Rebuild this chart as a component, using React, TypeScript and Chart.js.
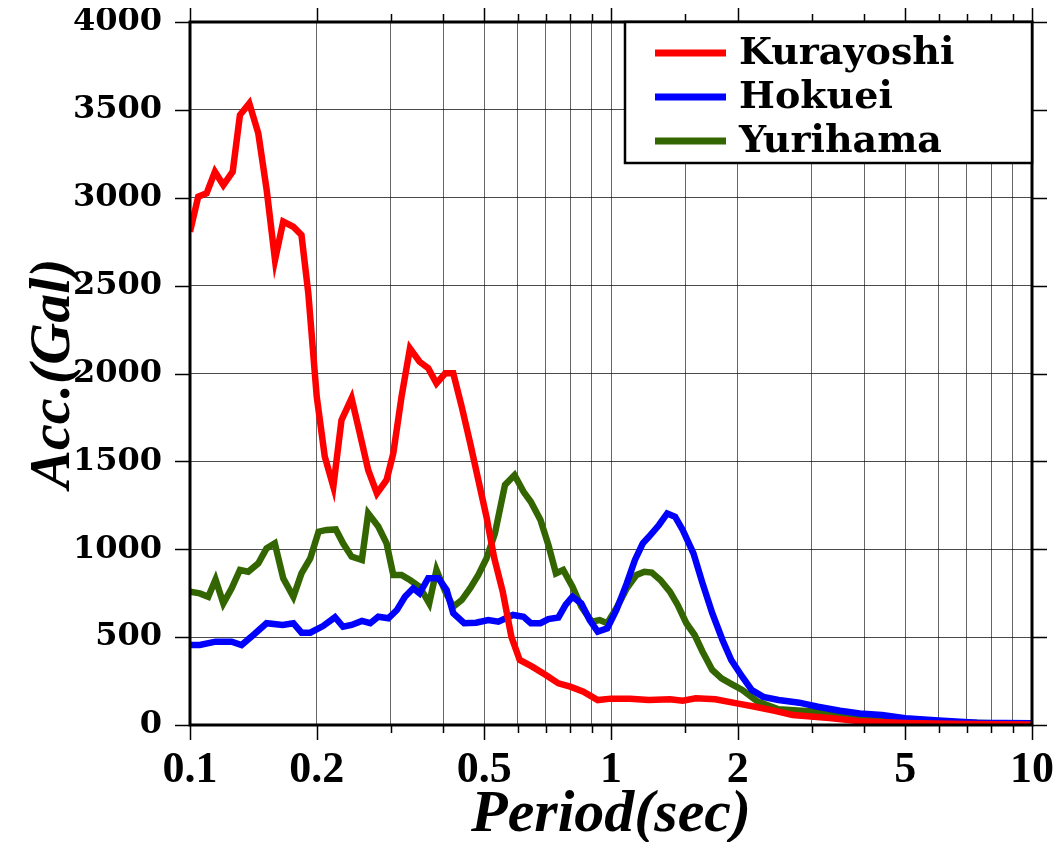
import React, { useEffect, useRef } from "react";
import { Chart, registerables } from "chart.js";

Chart.register(...registerables);

const kurayoshiPeriod = [0.1, 0.1046, 0.1095, 0.1146, 0.12, 0.1263, 0.1314, 0.1383, 0.1453, 0.1521, 0.1592, 0.1665, 0.1759, 0.184, 0.191, 0.2, 0.209, 0.219, 0.229, 0.242, 0.253, 0.265, 0.278, 0.293, 0.304, 0.318, 0.333, 0.351, 0.368, 0.385, 0.404, 0.422, 0.442, 0.463, 0.484, 0.506, 0.528, 0.553, 0.58, 0.607, 0.65, 0.7, 0.75, 0.8, 0.86, 0.93, 1.0, 1.11, 1.23, 1.38, 1.48, 1.59, 1.77, 1.99, 2.2, 2.45, 2.7, 3.3, 3.9, 5.0, 7.0, 10.0];
const kurayoshiAcc = [2807, 3006, 3025, 3148, 3072, 3148, 3471, 3537, 3366, 3044, 2646, 2864, 2835, 2788, 2456, 1868, 1527, 1356, 1735, 1859, 1661, 1451, 1318, 1394, 1546, 1868, 2143, 2067, 2030, 1944, 2001, 2001, 1811, 1603, 1394, 1185, 950, 760, 502, 370, 332, 284, 237, 218, 190, 142, 150, 150, 142, 146, 138, 152, 146, 123, 104, 80, 57, 40, 22, 12, 6, 3];

const hokueiPeriod = [0.1, 0.1055, 0.115, 0.1256, 0.1326, 0.1414, 0.152, 0.166, 0.176, 0.184, 0.193, 0.207, 0.221, 0.231, 0.242, 0.256, 0.268, 0.28, 0.296, 0.31, 0.324, 0.339, 0.351, 0.368, 0.389, 0.407, 0.422, 0.448, 0.478, 0.511, 0.54, 0.585, 0.62, 0.645, 0.68, 0.71, 0.75, 0.78, 0.81, 0.85, 0.89, 0.93, 0.98, 1.03, 1.09, 1.14, 1.19, 1.23, 1.3, 1.36, 1.42, 1.48, 1.57, 1.65, 1.74, 1.84, 1.93, 2.05, 2.16, 2.3, 2.5, 2.8, 3.1, 3.5, 3.9, 4.4, 5.0, 6.0, 7.4, 10.0];
const hokueiAcc = [455, 455, 474, 474, 455, 512, 579, 569, 579, 525, 525, 563, 613, 559, 569, 592, 579, 616, 607, 654, 730, 778, 749, 835, 835, 768, 636, 579, 582, 597, 588, 626, 616, 579, 579, 603, 612, 683, 730, 692, 597, 531, 550, 654, 806, 939, 1034, 1071, 1138, 1204, 1185, 1110, 977, 806, 636, 484, 370, 275, 199, 160, 142, 127, 104, 81, 66, 57, 38, 25, 13, 10];

const yurihamaPeriod = [0.1, 0.1055, 0.1105, 0.115, 0.12, 0.1256, 0.1314, 0.1375, 0.1453, 0.152, 0.159, 0.1665, 0.176, 0.184, 0.193, 0.202, 0.211, 0.222, 0.231, 0.242, 0.256, 0.265, 0.28, 0.293, 0.304, 0.318, 0.333, 0.351, 0.37, 0.385, 0.404, 0.422, 0.442, 0.463, 0.484, 0.506, 0.53, 0.56, 0.59, 0.62, 0.645, 0.68, 0.71, 0.74, 0.77, 0.81, 0.85, 0.9, 0.94, 0.98, 1.03, 1.09, 1.15, 1.2, 1.25, 1.31, 1.38, 1.44, 1.51, 1.58, 1.65, 1.74, 1.83, 1.92, 2.05, 2.23, 2.5, 2.9, 3.2, 3.6, 4.7, 6.0, 8.1, 10.0];
const yurihamaAcc = [759, 749, 730, 828, 692, 778, 882, 872, 920, 1005, 1034, 835, 730, 863, 948, 1100, 1110, 1113, 1034, 958, 939, 1204, 1129, 1034, 854, 854, 825, 787, 692, 882, 759, 673, 711, 778, 854, 948, 1090, 1366, 1422, 1327, 1270, 1166, 1024, 863, 882, 787, 673, 588, 597, 579, 664, 778, 854, 872, 867, 825, 759, 683, 579, 512, 417, 313, 265, 237, 199, 133, 90, 80, 72, 47, 32, 19, 10, 4];

const seriesNames = ["Kurayoshi", "Hokuei", "Yurihama"];
const seriesColors = ["#ff0000", "#0000ff", "#336600"];
const xTickLabels = [0.1, 0.2, 0.5, 1, 2, 5, 10];
const yTickStep = 500;

const FONT = "'DejaVu Serif', serif";
const FONT2 = "'Liberation Serif', serif";

function isLabeled(v: number) {
  return xTickLabels.some((t) => Math.abs(t - v) < 1e-6 * Math.max(1, t));
}

const zeroPad = (s: any) => {
  s.paddingTop = 0;
  s.paddingBottom = 0;
  s.paddingLeft = 0;
  s.paddingRight = 0;
};

const framePlugin = {
  id: "frameTicks",
  afterDatasetsDraw(chart: any) {
    const { ctx, chartArea } = chart;
    const { left, right, top, bottom } = chartArea;
    ctx.save();
    ctx.strokeStyle = "#000";
    ctx.lineWidth = 1.5;
    const xs = chart.scales.x;
    xs.ticks.forEach((t: any) => {
      const px = Math.round(xs.getPixelForValue(t.value)) + 0.5;
      const len = isLabeled(t.value) ? 15 : 8;
      ctx.beginPath();
      ctx.moveTo(px, bottom);
      ctx.lineTo(px, bottom + len);
      ctx.moveTo(px, top);
      ctx.lineTo(px, top - len);
      ctx.stroke();
    });
    const ys = chart.scales.y;
    ys.ticks.forEach((t: any) => {
      const py = Math.round(ys.getPixelForValue(t.value)) + 0.5;
      ctx.beginPath();
      ctx.moveTo(left, py);
      ctx.lineTo(left - 15, py);
      ctx.moveTo(right, py);
      ctx.lineTo(right + 15, py);
      ctx.stroke();
    });
    ctx.lineWidth = 3;
    ctx.strokeRect(left, top, right - left, bottom - top);
    ctx.restore();
  },
  afterDraw(chart: any) {
    const { ctx, chartArea } = chart;
    const bw = 407;
    const bh = 141;
    const bx = chartArea.right - bw;
    const by = chartArea.top;
    ctx.save();
    ctx.fillStyle = "#fff";
    ctx.fillRect(bx, by, bw, bh);
    ctx.strokeStyle = "#000";
    ctx.lineWidth = 2.5;
    ctx.strokeRect(bx, by, bw, bh);
    chart.data.datasets.forEach((ds: any, i: number) => {
      const y = by + 31 + i * 44;
      ctx.strokeStyle = ds.borderColor;
      ctx.lineWidth = 7;
      ctx.beginPath();
      ctx.moveTo(bx + 30, y);
      ctx.lineTo(bx + 101, y);
      ctx.stroke();
      ctx.fillStyle = "#000";
      ctx.font = `bold 38px ${FONT}`;
      ctx.textBaseline = "middle";
      ctx.textAlign = "left";
      ctx.fillText(ds.label, bx + 114, y + 1);
    });
    ctx.restore();
  },
};

export default function App() {
  const ref = useRef<HTMLCanvasElement | null>(null);
  useEffect(() => {
    if (!ref.current) return;
    const periods = [kurayoshiPeriod, hokueiPeriod, yurihamaPeriod];
    const accs = [kurayoshiAcc, hokueiAcc, yurihamaAcc];
    const chart = new Chart(ref.current, {
      type: "line",
      data: {
        datasets: seriesNames.map((name, i) => ({
          label: name,
          data: periods[i].map((p, j) => ({ x: p, y: accs[i][j] })),
          borderColor: seriesColors[i],
          backgroundColor: seriesColors[i],
          borderWidth: 6.5,
          pointRadius: 0,
          tension: 0,
          fill: false,
          borderJoinStyle: "miter" as const,
        })),
      },
      options: {
        responsive: false,
        animation: false,
        events: [],
        layout: { padding: { top: 14, right: 24, left: 0, bottom: 0 } },
        plugins: {
          legend: { display: false },
          tooltip: { enabled: false },
        },
        scales: {
          x: {
            type: "logarithmic",
            min: 0.1,
            max: 10,
            afterFit: (s: any) => {
              s.height = 117;
              zeroPad(s);
            },
            border: { display: false },
            grid: {
              color: "rgba(0,0,0,0.6)",
              lineWidth: 1,
              drawTicks: false,
            },
            ticks: {
              autoSkip: false,
              maxRotation: 0,
              minRotation: 0,
              padding: 19,
              color: "#000",
              font: { family: FONT2, size: 44, weight: "bold" },
              callback: (v: any) => {
                const n = Number(v);
                return isLabeled(n) ? String(parseFloat(n.toFixed(3))) : "";
              },
            },
            title: {
              display: true,
              text: "Period(sec)",
              color: "#000",
              font: { family: FONT2, size: 60, weight: "bold", style: "italic", lineHeight: 1 },
              padding: { top: 0, bottom: -3 },
            },
          },
          y: {
            min: 0,
            max: 4000,
            afterFit: (s: any) => {
              s.width = 182;
              zeroPad(s);
            },
            border: { display: false },
            grid: {
              color: "rgba(0,0,0,0.7)",
              lineWidth: 1,
              drawTicks: false,
            },
            ticks: {
              stepSize: yTickStep,
              padding: 28,
              color: "#000",
              font: { family: FONT, size: 32, weight: "bold" },
              callback: (v: any) => String(v),
            },
            title: {
              display: true,
              text: "Acc.(Gal)",
              color: "#000",
              font: { family: FONT2, size: 58, weight: "bold", style: "italic", lineHeight: 1 },
              padding: { top: 17, bottom: 0 },
            },
          },
        },
      },
      plugins: [framePlugin],
    });
    return () => chart.destroy();
  }, []);
  return (
    <div style={{ width: 1048, height: 834 }}>
      <canvas ref={ref} width={1048} height={834} style={{ display: "block" }} />
    </div>
  );
}
